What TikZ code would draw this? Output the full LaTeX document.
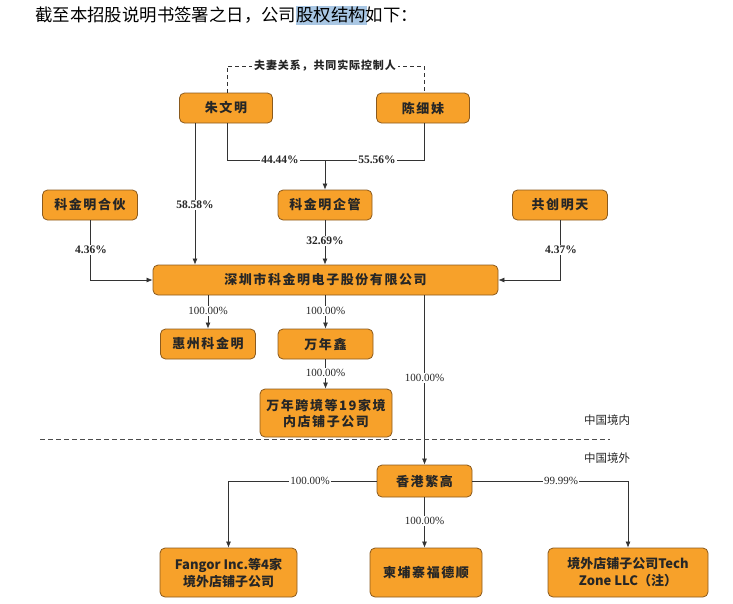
\documentclass[tikz,border=0pt]{standalone}
\usepackage{fontspec}
\setmainfont{Liberation Serif}
\newfontfamily\cjk{Noto Sans CJK SC}
\newfontfamily\cjkbox[LetterSpace=12]{Noto Sans CJK SC}
\newfontfamily\cjknote[LetterSpace=8]{Noto Sans CJK SC}
\usetikzlibrary{arrows.meta,calc}
\definecolor{boxfill}{HTML}{F7A12A}
\definecolor{boxdraw}{HTML}{8A5A1E}
\definecolor{linec}{HTML}{333333}
\definecolor{hl}{HTML}{A9C7E4}
\tikzset{
  orgbox/.style={draw=boxdraw, fill=boxfill, rounded corners=5pt, line width=0.8pt,
    minimum height=30pt, inner sep=2pt, align=center,
    font=\cjkbox\fontsize{13}{16}\selectfont\bfseries, text=black!85},
  conn/.style={draw=linec, line width=0.7pt},
  arr/.style={conn, -{Latex[length=6pt,width=5pt]}},
  pct/.style={fill=white, inner sep=1pt, font=\fontsize{11.5}{13}\selectfont\bfseries, text=black!85},
  pctb/.style={fill=white, inner sep=1pt, font=\fontsize{11}{13}\selectfont, text=black!85},
  note/.style={font=\cjk\fontsize{11.5}{13}\selectfont, text=black!85},
}
\begin{document}
\begin{tikzpicture}[x=1pt,y=-1pt]
\useasboundingbox (0,0) rectangle (733,603);
% header
\fill[hl] (296,6) rectangle (367,25);
\node[anchor=west, inner sep=0pt, font=\cjk\fontsize{17.4}{19}\selectfont] (hdr) at (35,15) {截至本招股说明书签署之日，公司股权结构如下：};

% nodes
\node[orgbox, minimum width=93pt] (zhu) at (226,108) {朱文明};
\node[orgbox, minimum width=93pt] (chen) at (423,108) {陈细妹};
\node[orgbox, minimum width=95pt] (hehuo) at (90,205) {科金明合伙};
\node[orgbox, minimum width=94pt] (qiguan) at (325,205) {科金明企管};
\node[orgbox, minimum width=95pt] (gong) at (560,205) {共创明天};
\node[orgbox, minimum width=345pt] (sz) at (325.5,280) {深圳市科金明电子股份有限公司};
\node[orgbox, minimum width=95pt] (hz) at (208,344) {惠州科金明};
\node[orgbox, minimum width=95pt] (wnx) at (325.5,344) {万年鑫};
\node[orgbox, minimum width=132pt, minimum height=48pt] (wnkj) at (326,413) {万年跨境等19家境\\内店铺子公司};
\node[orgbox, minimum width=95pt, minimum height=32pt] (hk) at (424.5,481) {香港繁高};
\node[orgbox, minimum width=137pt, minimum height=49pt, font=\cjk\fontsize{13}{17}\selectfont\bfseries] (fangor) at (228.5,572.5) {Fangor Inc.等4家\\境外店铺子公司};
\node[orgbox, minimum width=112pt, minimum height=49pt] (jpz) at (426,572.5) {柬埔寨福德顺};
\node[orgbox, minimum width=160pt, minimum height=49pt, font=\cjk\fontsize{13}{17}\selectfont\bfseries] (tech) at (628,572.5) {境外店铺子公司Tech\\Zone LLC（注）};

% spouse relation
\coordinate (dl) at (227,66);
\coordinate (dr) at (424,66);
\draw[conn, dashed, dash pattern=on 4pt off 3pt] (zhu.north -| dl) -- (dl) -- (dr) -- (chen.north -| dr);
\node[font=\cjknote\fontsize{11}{13}\selectfont\bfseries, text=black!85, fill=white, inner sep=2pt] (spouse) at (325,66) {夫妻关系，共同实际控制人};

% Zhu -> SZ
\coordinate (zx) at (195,0);
\draw[arr] (zhu.south -| zx) -- (sz.north -| zx);
\node[pct] (p1) at (195,205) {58.58\%};

% Zhu, Chen -> qiguan
\coordinate (j) at (325,160);
\draw[conn] (zhu.south -| dl) |- (j);
\draw[conn] (chen.south -| dr) |- (j);
\draw[arr] (j) -- (qiguan.north);
\node[pct] (p2) at (280,160) {44.44\%};
\node[pct] (p3) at (377,160) {55.56\%};

% qiguan -> SZ
\draw[arr] (qiguan.south) -- (sz.north -| qiguan.south);
\node[pct] (p4) at (325,241) {32.69\%};

% hehuo -> SZ
\draw[arr] (hehuo.south) |- (sz.west);
\node[pct] (p5) at (91,250) {4.36\%};
% gong -> SZ
\draw[arr] (gong.south) |- (sz.east);
\node[pct] (p6) at (561,250) {4.37\%};

% SZ -> subsidiaries
\draw[arr] (sz.south -| hz.north) -- (hz.north);
\node[pctb] (p7) at (208,311) {100.00\%};
\draw[arr] (sz.south -| wnx.north) -- (wnx.north);
\node[pctb] (p8) at (325.5,311) {100.00\%};
\draw[arr] (wnx.south) -- (wnkj.north -| wnx.south);
\node[pctb] (p9) at (325.5,373) {100.00\%};
\draw[arr] (sz.south -| hk.north) -- (hk.north);
\node[pctb] (p10) at (424.5,378) {100.00\%};

% border line
\coordinate (bl) at (40,439);
\coordinate (br) at (610,439);
\draw[draw=black!70, line width=0.9pt, dash pattern=on 5pt off 3pt] (bl) -- (br);
\node[note] (cn1) at (607,420) {中国境内};
\node[note] (cn2) at (607,458) {中国境外};

% HK -> children
\draw[arr] (hk.west) -| (fangor.north);
\node[pctb] (p11) at (310,481) {100.00\%};
\draw[arr] (hk.south) -- (jpz.north -| hk.south);
\node[pctb] (p12) at (424.5,521) {100.00\%};
\draw[arr] (hk.east) -| (tech.north);
\node[pctb] (p13) at (561,481) {99.99\%};
\end{tikzpicture}
\end{document}
